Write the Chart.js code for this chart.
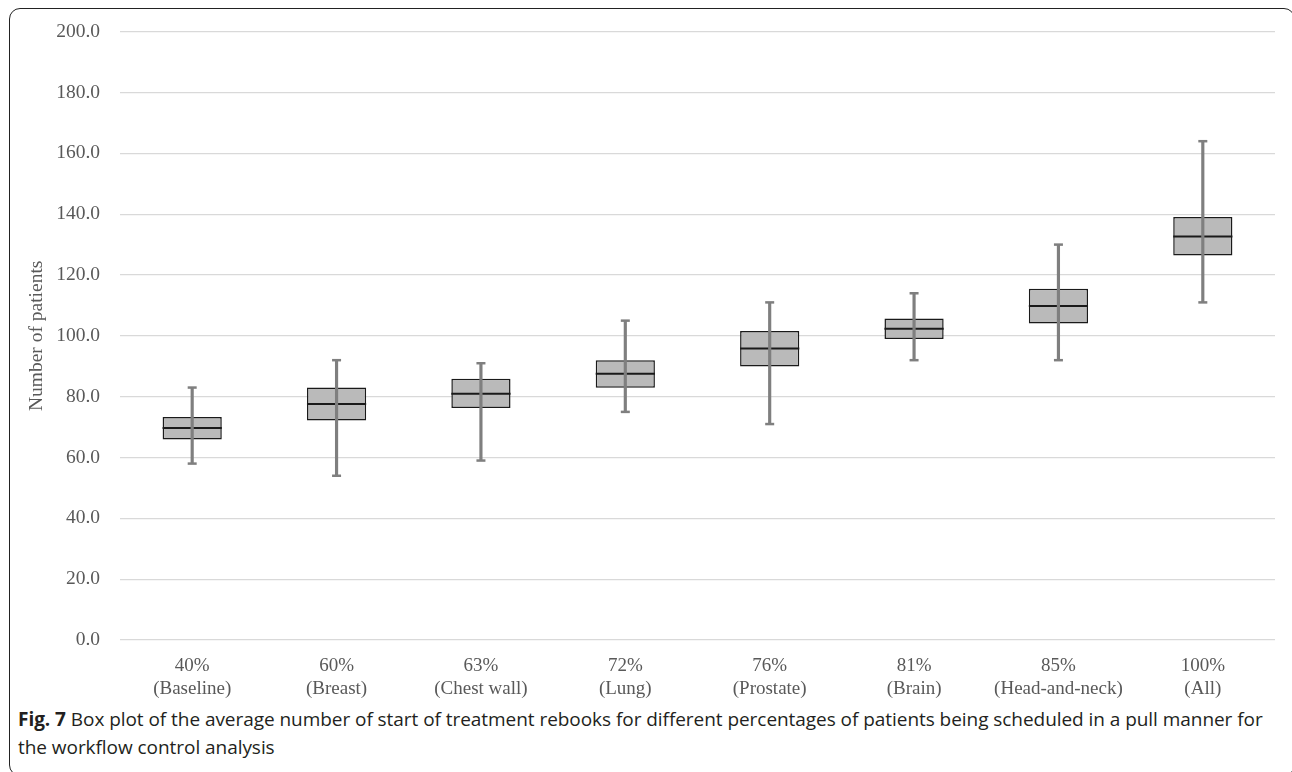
<!DOCTYPE html>
<html>
<head>
<meta charset="utf-8">
<script src="https://cdn.jsdelivr.net/npm/chart.js"></script>
<style>
  html, body { margin: 0; padding: 0; background: #fff; }
  body { width: 1292px; height: 772px; position: relative; overflow: hidden; }
  #frame {
    position: absolute; left: 9px; top: 8px; width: 1286px; height: 768px;
    border: 1.5px solid #222; border-radius: 11px; box-sizing: border-box;
  }
  #wrap { position: absolute; left: 0; top: 0; width: 1292px; height: 705px; }
  #caption {
    position: absolute; left: 18px; top: 705px; width: 1270px;
    font-family: "Open Sans", "Noto Sans", sans-serif; font-size: 19px;
    letter-spacing: -0.05px; white-space: nowrap;
    line-height: 28px; color: #231f20;
  }
  #caption b { font-weight: 700; }
</style>
</head>
<body>
<div id="frame"></div>
<div id="wrap"><canvas id="boxChart"></canvas></div>
<div id="caption"><b>Fig. 7</b> Box plot of the average number of start of treatment rebooks for different percentages of patients being scheduled in a pull manner for<br>the workflow control analysis</div>

<script>
    // ==============================
    // Datos
    // ==============================
    var categorias = [
        ["40%", "(Baseline)"],
        ["60%", "(Breast)"],
        ["63%", "(Chest wall)"],
        ["72%", "(Lung)"],
        ["76%", "(Prostate)"],
        ["81%", "(Brain)"],
        ["85%", "(Head-and-neck)"],
        ["100%", "(All)"]
    ];
    var minimos = [58, 54, 59, 75, 71, 92, 92, 111];
    var q1 = [65.9, 72.2, 76.3, 82.9, 89.9, 99.0, 104.1, 126.4];
    var medianas = [69.7, 77.6, 81.0, 87.5, 95.8, 102.3, 109.8, 132.7];
    var q3 = [73.3, 83.0, 85.9, 92.0, 101.6, 105.7, 115.5, 139.1];
    var maximos = [83, 92, 91, 105, 111, 114, 130, 164];
    var ticksY = [0, 20, 40, 60, 80, 100, 120, 140, 160, 180, 200];

    var cajas = q1.map(function (v, i) { return [v, q3[i]]; });
    var bigotes = minimos.map(function (v, i) { return [v, maximos[i]]; });

    // ==============================
    // Mediana y topes de los bigotes
    // ==============================
    var boxExtras = {
        id: "boxExtras",
        afterDatasetDraw: function (chart, args) {
            if (args.index !== 1) return;
            var ctx = chart.ctx, y = chart.scales.y;
            var meta = chart.getDatasetMeta(1);
            ctx.save();
            ctx.strokeStyle = "#1a1a1a";
            ctx.lineWidth = 2;
            medianas.forEach(function (m, i) {
                var bar = meta.data[i];
                var half = bar.width / 2;
                var py = y.getPixelForValue(m);
                ctx.beginPath();
                ctx.moveTo(bar.x - half, py);
                ctx.lineTo(bar.x + half, py);
                ctx.stroke();
            });
            ctx.restore();
        },
        afterDatasetsDraw: function (chart) {
            var ctx = chart.ctx, x = chart.scales.x, y = chart.scales.y;
            ctx.save();
            ctx.strokeStyle = "#7f7f7f";
            ctx.lineWidth = 2.5;
            categorias.forEach(function (c, i) {
                var px = x.getPixelForValue(i);
                [minimos[i], maximos[i]].forEach(function (v) {
                    var py = y.getPixelForValue(v);
                    ctx.beginPath();
                    ctx.moveTo(px - 4.5, py);
                    ctx.lineTo(px + 4.5, py);
                    ctx.stroke();
                });
            });
            ctx.restore();
        }
    };

    var ctxBox = document.getElementById("boxChart").getContext("2d");
    var boxChart = new Chart(ctxBox, {
        type: "bar",
        data: {
            labels: categorias,
            datasets: [{
                label: "Bigotes",
                data: bigotes,
                backgroundColor: "#7f7f7f",
                barThickness: 2.5,
                grouped: false,
                order: 0
            }, {
                label: "Cajas",
                data: cajas,
                backgroundColor: "#bababa",
                borderColor: "#1a1a1a",
                borderWidth: 1.5,
                borderSkipped: false,
                barPercentage: 0.41,
                categoryPercentage: 1,
                grouped: false,
                order: 1
            }]
        },
        plugins: [boxExtras],
        options: {
            responsive: true,
            maintainAspectRatio: false,
            animation: false,
            layout: { padding: { left: 10, right: 17, top: 29, bottom: 0 } },
            plugins: {
                legend: { display: false },
                tooltip: { enabled: false }
            },
            scales: {
                x: {
                    afterFit: function (scale) { scale.height = 65; },
                    grid: { display: false, drawTicks: false },
                    border: { display: false },
                    ticks: {
                        color: "#595959",
                        padding: 14,
                        maxRotation: 0,
                        font: { family: "'Liberation Serif', serif", size: 19, lineHeight: 1.22 }
                    }
                },
                y: {
                    min: 0,
                    max: 200,
                    afterBuildTicks: function (scale) {
                        scale.ticks = ticksY.map(function (v) { return { value: v }; });
                    },
                    afterFit: function (scale) { scale.width = 110; },
                    grid: { color: "#d9d9d9", lineWidth: 1.3, drawTicks: false },
                    border: { display: false },
                    ticks: {
                        color: "#595959",
                        padding: 20,
                        font: { family: "'Liberation Serif', serif", size: 19.5 },
                        callback: function (v) { return Number(v).toFixed(1); }
                    },
                    title: {
                        display: true,
                        text: "Number of patients",
                        color: "#595959",
                        padding: { top: 15, bottom: 0 },
                        font: { family: "'Liberation Serif', serif", size: 19.5 }
                    }
                }
            }
        }
    });
</script>
</body>
</html>
